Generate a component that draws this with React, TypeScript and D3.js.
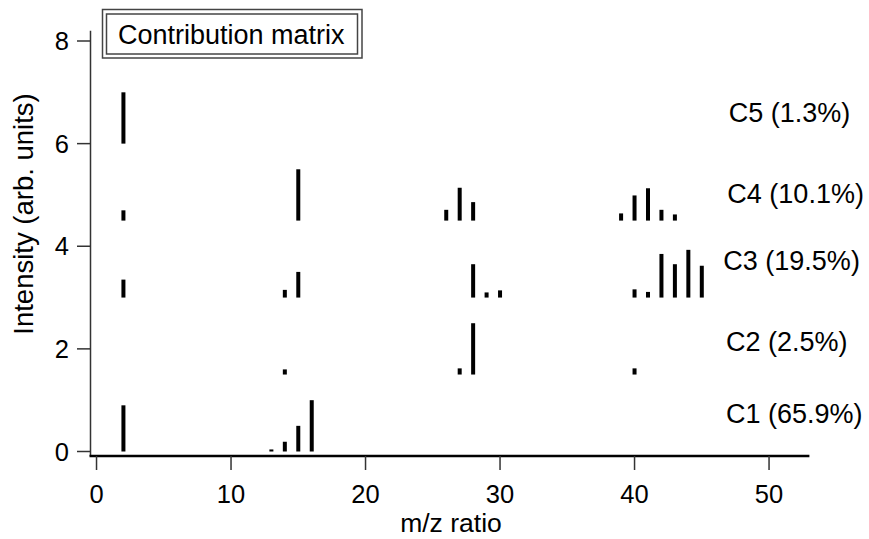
import React from "react";
import * as d3 from "d3";

// m/z positions and normalized intensities per component
const c1Mz = [2, 13, 14, 15, 16];
const c1Val = [0.9, 0.04, 0.19, 0.5, 1.0];
const c2Mz = [14, 27, 28, 40];
const c2Val = [0.1, 0.12, 1.0, 0.12];
const c3Mz = [2, 14, 15, 28, 29, 30, 40, 41, 42, 43, 44, 45];
const c3Val = [0.35, 0.15, 0.5, 0.65, 0.1, 0.14, 0.16, 0.11, 0.85, 0.65, 0.93, 0.62];
const c4Mz = [2, 15, 26, 27, 28, 39, 40, 41, 42, 43];
const c4Val = [0.2, 1.0, 0.21, 0.64, 0.36, 0.14, 0.49, 0.63, 0.21, 0.12];
const c5Mz = [2];
const c5Val = [1.0];

const componentNames = ["C1 (65.9%)", "C2 (2.5%)", "C3 (19.5%)", "C4 (10.1%)", "C5 (1.3%)"];
const componentOffsets = [0, 1.5, 3, 4.5, 6];
const labelYValues = [0.56, 1.95, 3.54, 4.85, 6.42];
const labelXValues = [46.8, 46.8, 46.6, 46.9, 47.0];

const xTicks = [0, 10, 20, 30, 40, 50];
const yTicks = [0, 2, 4, 6, 8];

const legendTitle = "Contribution matrix";
const xTitle = "m/z ratio";
const yTitle = "Intensity (arb. units)";

const W = 869;
const H = 539;
const FONT = "'Liberation Sans', Arial, sans-serif";

export default function App() {
  const x = d3.scaleLinear().domain([-0.5, 53]).range([89.8, 809.4]);
  const y = d3.scaleLinear().domain([0, 8]).range([451.5, 41]);

  const series = [
    { mz: c1Mz, val: c1Val },
    { mz: c2Mz, val: c2Val },
    { mz: c3Mz, val: c3Val },
    { mz: c4Mz, val: c4Val },
    { mz: c5Mz, val: c5Val },
  ];

  const axisY = 456;
  const axisX = 90.5;
  const barW = 4;

  return (
    <div style={{ position: "absolute", left: 0, top: 0 }}>
      <svg width={W} height={H} style={{ display: "block", background: "#fff" }}>
        {/* bars */}
        {series.map((s, si) => (
          <g key={si}>
            {s.mz.map((m, i) => {
              const base = componentOffsets[si];
              const y0 = y(base);
              const y1 = y(base + s.val[i]);
              return (
                <rect
                  key={i}
                  x={x(m) - barW / 2}
                  y={y1}
                  width={barW}
                  height={Math.max(y0 - y1, 2)}
                  fill="#000"
                />
              );
            })}
          </g>
        ))}

        {/* y axis */}
        <line x1={axisX} x2={axisX} y1={y(8.2)} y2={axisY} stroke="#333" strokeWidth={1.5} />
        {yTicks.map((t) => (
          <g key={t}>
            <line x1={77} x2={axisX} y1={y(t)} y2={y(t)} stroke="#333" strokeWidth={1.5} />
            <text
              x={69}
              y={y(t)}
              textAnchor="end"
              dominantBaseline="central"
              fontFamily={FONT}
              fontSize={25.5}
              fill="#000"
            >
              {t}
            </text>
          </g>
        ))}

        {/* x axis */}
        <line x1={89.5} x2={809.4} y1={axisY} y2={axisY} stroke="#000" strokeWidth={2.5} />
        {xTicks.map((t) => (
          <g key={t}>
            <line x1={x(t)} x2={x(t)} y1={axisY} y2={470} stroke="#333" strokeWidth={1.5} />
            <text
              x={x(t)}
              y={503}
              textAnchor="middle"
              fontFamily={FONT}
              fontSize={25.5}
              fill="#000"
            >
              {t}
            </text>
          </g>
        ))}

        {/* axis titles */}
        <text x={451} y={532} textAnchor="middle" fontFamily={FONT} fontSize={26.5} fill="#000">
          {xTitle}
        </text>
        <text
          transform={`translate(33, 214) rotate(-90)`}
          textAnchor="middle"
          fontFamily={FONT}
          fontSize={27.5}
          fill="#000"
        >
          {yTitle}
        </text>

        {/* legend box */}
        <rect x={102.5} y={9.5} width={259.5} height={48.5} fill="#fff" stroke="#444" strokeWidth={1.5} />
        <rect x={106.5} y={14} width={251} height={40} fill="none" stroke="#444" strokeWidth={1.5} />
        <text x={118} y={44} fontFamily={FONT} fontSize={27} fill="#000">
          {legendTitle}
        </text>

        {/* component labels */}
        {componentNames.map((n, i) => (
          <text
            key={n}
            x={x(labelXValues[i])}
            y={y(labelYValues[i])}
            fontFamily={FONT}
            fontSize={27}
            fill="#000"
          >
            {n}
          </text>
        ))}
      </svg>
    </div>
  );
}
